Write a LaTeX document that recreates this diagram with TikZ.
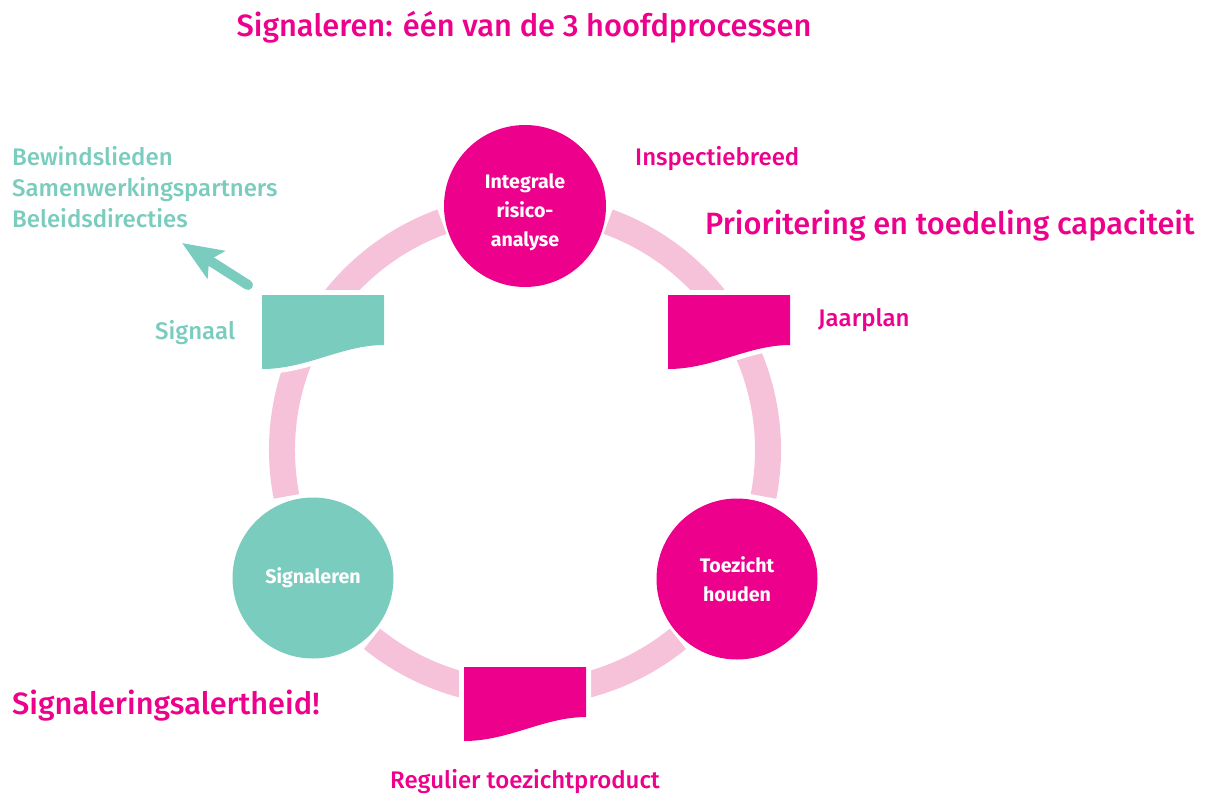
\documentclass[tikz,border=0pt]{standalone}
\usepackage{fontspec}
\usetikzlibrary{arrows.meta}
\setmainfont{Fira Sans}
\newfontfamily\fmed{Fira Sans Medium}
\definecolor{mypink}{HTML}{EC008C}
\definecolor{ringpink}{HTML}{F6C2D9}
\definecolor{myteal}{HTML}{7ACCBE}
\tikzset{
  docpic/.pic={
    \draw[white, line width=10pt, line join=round, fill=white] (0,0) -- (122,0) -- (122,50) .. controls (80,50) and (45,74) .. (0,74) -- cycle;
    \path[pic actions] (0,0) -- (122,0) -- (122,50) .. controls (80,50) and (45,74) .. (0,74) -- cycle;
  }
}
\begin{document}
\begin{tikzpicture}[x=1pt,y=-1pt,
  ringseg/.style={draw=ringpink, line width=26pt},
  circnode/.style={circle, inner sep=0pt, minimum size=161pt, text=white, align=center, font=\bfseries\fontsize{19.6}{29}\selectfont},
  circtxt/.style={inner sep=0pt, text=white, align=center, font=\bfseries\fontsize{19.6}{29}\selectfont},
  docbox/.style={inner sep=0pt, minimum width=122pt, minimum height=74pt, anchor=north west},
  bigtxt/.style={inner sep=0pt, font=\fmed\fontsize{30.8}{36}\selectfont},
  midtxt/.style={inner sep=0pt, font=\fmed\fontsize{24}{30}\selectfont},
  arrowline/.style={draw=myteal, line width=10pt, line cap=round, -{Stealth[length=40pt,width=32pt,inset=8pt]}}
]
\useasboundingbox (0,0) rectangle (1208,796);
% ring
\draw[ringseg] (525,450) ++(11:243) arc[start angle=11, end angle=-70, radius=243];
\draw[ringseg] (525,450) ++(-110:243) arc[start angle=-110, end angle=-191, radius=243];
\draw[ringseg] (525,450) ++(-231:243) arc[start angle=-231, end angle=-309, radius=243];
% documents
\node[docbox] (signaal) at (262,295) {};
\node[docbox] (jaarplan) at (668,295) {};
\node[docbox] (regulier) at (464,667) {};
\pic[fill=myteal] at (signaal.north west) {docpic};
\pic[fill=mypink] at (jaarplan.north west) {docpic};
\pic[fill=mypink] at (regulier.north west) {docpic};
% circles
\node[circnode, fill=mypink, minimum size=162pt] (ira) at (525,206) {};
\node[circtxt] (iratxt) at (525,212) {Integrale\\risico-\\analyse};
\node[circnode, fill=myteal] (sig) at (313,578) {Signaleren};
\node[circnode, fill=mypink] (toe) at (737,579) {Toezicht\\houden};
% texts
\node[bigtxt, text=mypink, anchor=base] (title) at (524,36) {Signaleren: één van de 3 hoofdprocessen};
\node[midtxt, text=mypink, anchor=base west] (insp) at (635,165) {Inspectiebreed};
\node[bigtxt, text=mypink, anchor=base west] (prio) at (705,234) {Prioritering en toedeling capaciteit};
\node[midtxt, text=mypink, anchor=base west] (jptxt) at (818,326) {Jaarplan};
\node[midtxt, text=myteal, anchor=base west] (sigtxt) at (155,339) {Signaal};
\node[midtxt, text=mypink, anchor=base west] (regtxt) at (390,788) {Regulier toezichtproduct};
\node[bigtxt, text=mypink, anchor=base west] (alert) at (12,714) {Signaleringsalertheid!};
\node[midtxt, text=myteal, anchor=base west] (bew) at (12,165) {Bewindslieden};
\node[midtxt, text=myteal, anchor=base west] (sam) at (12,196) {Samenwerkingspartners};
\node[midtxt, text=myteal, anchor=base west] (bel) at (12,227) {Beleidsdirecties};
% arrow
\coordinate (arrstart) at (248,285);
\coordinate (arrtip) at (182,243);
\draw[arrowline] (arrstart) -- (arrtip);
\end{tikzpicture}
\end{document}
